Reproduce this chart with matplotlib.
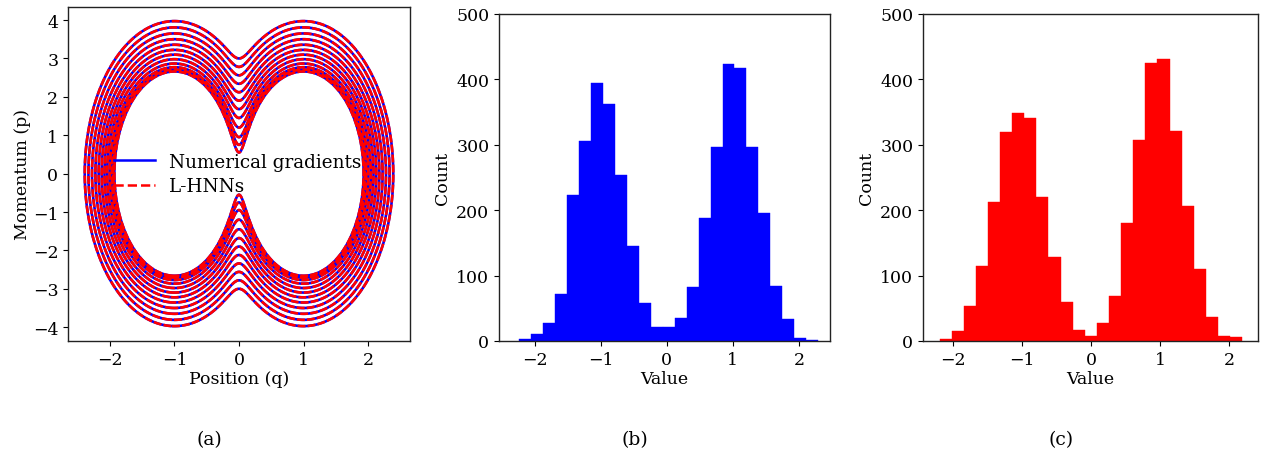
import numpy as np
import matplotlib
matplotlib.use("Agg")
import matplotlib.pyplot as plt
from matplotlib.lines import Line2D

plt.rcParams['font.family'] = ['DejaVu Serif']
plt.rcParams['mathtext.fontset'] = 'dejavuserif'

# 1-D Gaussian mixture target: modes at +/-1, std 0.35
mix_means = [-1.0, 1.0]
mix_std = 0.35

# momentum at q = 0 for each plotted orbit
p_at_zero = [3.0, 2.78, 2.56, 2.34, 2.12, 1.9, 1.68, 1.45, 1.2, 0.95, 0.75, 0.55]

# histogram counts, 25 bins each
b_range = (-2.23, 2.29)
b_counts = [3, 11, 27, 72, 223, 306, 395, 362, 254, 146, 58, 22, 22,
            35, 82, 188, 297, 423, 417, 297, 195, 84, 34, 4, 2]
c_range = (-2.20, 2.19)
c_counts = [3, 15, 54, 114, 213, 320, 349, 341, 220, 129, 60, 17, 8,
            27, 69, 180, 308, 425, 431, 321, 206, 110, 37, 7, 6]


def potential(q):
    dens = sum(0.5 * np.exp(-(q - m) ** 2 / (2 * mix_std ** 2)) for m in mix_means)
    return -np.log(dens / (mix_std * np.sqrt(2 * np.pi)))


def hamiltonian(q, p):
    return potential(q) + 0.5 * p ** 2


fig = plt.figure(figsize=(12.62, 4.6), dpi=100)

# (a) phase space
ax1 = fig.add_axes([68 / 1262, 1 - 342 / 460, 342 / 1262, 334 / 460])
qq = np.linspace(-2.7, 2.7, 900)
pp = np.linspace(-4.4, 4.4, 900)
Q, P = np.meshgrid(qq, pp)
Hgrid = hamiltonian(Q, P)
levels = sorted(potential(0.0) + 0.5 * np.array(p_at_zero) ** 2)
ax1.contour(Q, P, Hgrid, levels=levels, colors='blue', linewidths=1.9, linestyles='solid')
cs = ax1.contour(Q, P, Hgrid, levels=levels, colors='red', linewidths=1.9)
cs.set_linestyle((0, (3.0, 0.8)))
ax1.set_xlim(-2.65, 2.65)
ax1.set_ylim(-4.36, 4.34)
ax1.set_xticks([-2, -1, 0, 1, 2])
ax1.set_yticks([-4, -3, -2, -1, 0, 1, 2, 3, 4])
ax1.set_xlabel('Position (q)', fontsize=12.5, labelpad=2)
ax1.set_ylabel('Momentum (p)', fontsize=12.5, labelpad=1)
handles = [Line2D([], [], color='blue', lw=1.8),
           Line2D([], [], color='red', lw=1.8, ls='--')]
ax1.legend(handles, ['Numerical gradients', 'L-HNNs'], loc='center left',
           bbox_to_anchor=(0.135, 0.5), frameon=False, fontsize=13.2,
           handlelength=2.2, handletextpad=0.8, labelspacing=0.35,
           borderpad=0, borderaxespad=0)


def hist_panel(rect, rng, counts, color, xlim):
    ax = fig.add_axes(rect)
    edges = np.linspace(rng[0], rng[1], len(counts) + 1)
    ax.bar(edges[:-1], counts, width=np.diff(edges), align='edge',
           color=color, edgecolor=color, linewidth=0.3)
    ax.set_xlim(*xlim)
    ax.set_ylim(0, 500)
    ax.set_xticks([-2, -1, 0, 1, 2])
    ax.set_yticks([0, 100, 200, 300, 400, 500])
    ax.set_xlabel('Value', fontsize=12.5, labelpad=2)
    ax.set_ylabel('Count', fontsize=12.5, labelpad=4)
    return ax


ax2 = hist_panel([499 / 1262, 1 - 342 / 460, 331 / 1262, 327 / 460],
                 b_range, b_counts, 'blue', (-2.54, 2.47))
ax3 = hist_panel([923 / 1262, 1 - 342 / 460, 335 / 1262, 327 / 460],
                 c_range, c_counts, 'red', (-2.44, 2.42))

for ax in (ax1, ax2, ax3):
    ax.tick_params(labelsize=12.5)
    for s in ax.spines.values():
        s.set_linewidth(1.0)
        s.set_color('#222222')

for x, lab in [(209, '(a)'), (635, '(b)'), (1061, '(c)')]:
    fig.text(x / 1262, 1 - 440 / 460, lab, ha='center', va='center', fontsize=13.5)

fig.savefig('out.png', dpi=100)
